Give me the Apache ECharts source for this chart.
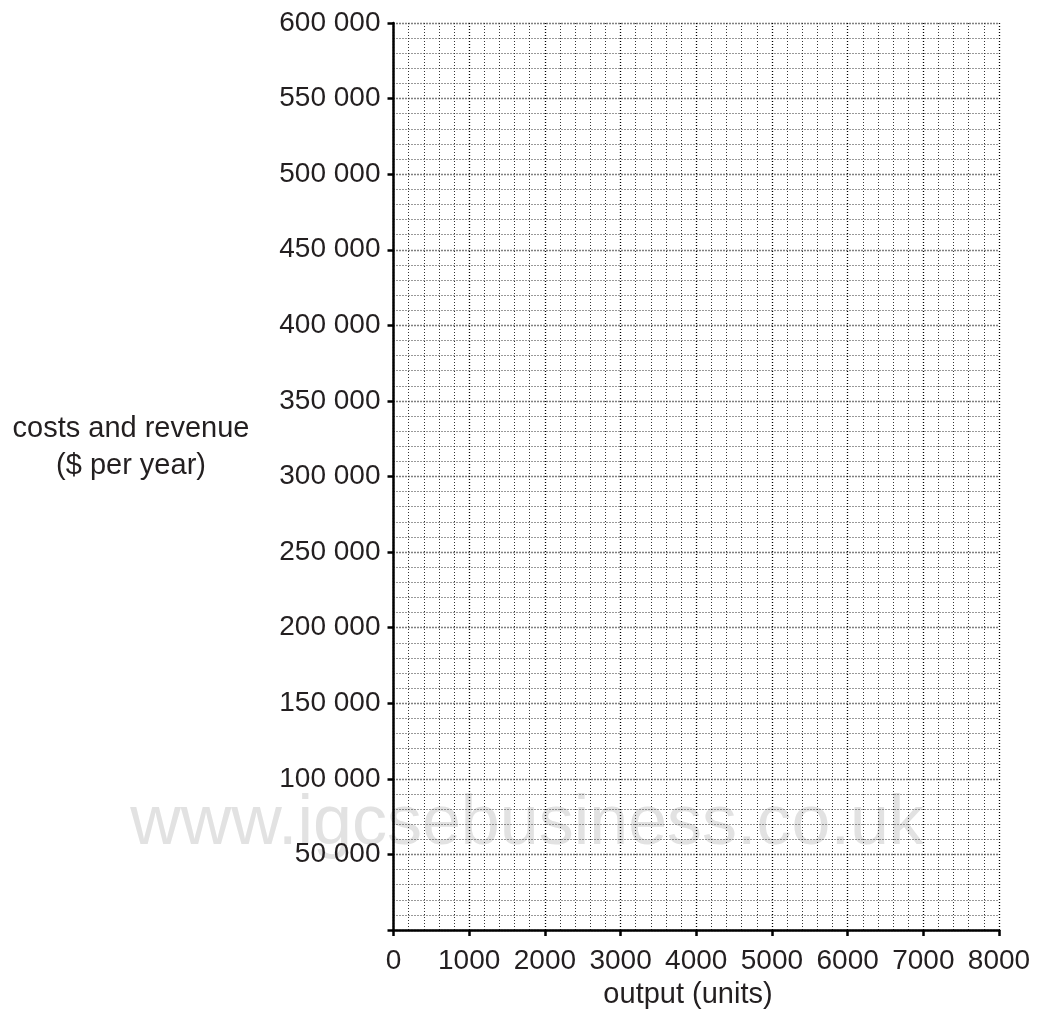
<!DOCTYPE html>
<html>
<head>
<meta charset="utf-8">
<script src="https://cdn.jsdelivr.net/npm/echarts@6/dist/echarts.min.js"></script>
<style>
html,body{margin:0;padding:0;background:#fff;}
#chart{width:1042px;height:1021px;}
</style>
</head>
<body>
<div id="chart"></div>
<script>
// Axis ranges and tick labels (blank graph paper: no plotted data)
const xTicks = [0, 1000, 2000, 3000, 4000, 5000, 6000, 7000, 8000];
const xTickLabels = ['0', '1000', '2000', '3000', '4000', '5000', '6000', '7000', '8000'];
const yTicks = [0, 50000, 100000, 150000, 200000, 250000, 300000, 350000, 400000, 450000, 500000, 550000, 600000];
const yTickLabels = ['', '50 000', '100 000', '150 000', '200 000', '250 000', '300 000', '350 000', '400 000', '450 000', '500 000', '550 000', '600 000'];
const seriesData = [];
const xAxisTitle = 'output (units)';
const yAxisTitle = ['costs and revenue', '($ per year)'];
const watermark = 'www.igcsebusiness.co.uk';

const textColor = '#231f20';
const font = '"Liberation Sans", Arial, Helvetica, sans-serif';

const chart = echarts.init(document.getElementById('chart'), null, {renderer: 'canvas'});
chart.setOption({
  animation: false,
  backgroundColor: '#ffffff',
  grid: {left: 393.5, right: 43, top: 23, bottom: 91, containLabel: false},
  xAxis: {
    type: 'value',
    min: xTicks[0],
    max: xTicks[xTicks.length - 1],
    interval: 1000,
    axisLine: {show: true, onZero: false, lineStyle: {color: '#000', width: 2.5}},
    axisTick: {show: true, inside: false, length: 6, lineStyle: {color: '#000', width: 2.5}},
    axisLabel: {
      margin: 17,
      fontSize: 28,
      fontFamily: font,
      color: textColor,
      formatter: v => { const i = xTicks.indexOf(v); return i >= 0 ? xTickLabels[i] : ''; }
    },
    splitLine: {show: true, lineStyle: {color: '#000', width: 1.3, type: [1, 2]}},
    minorTick: {show: false, splitNumber: 5},
    minorSplitLine: {show: true, lineStyle: {color: '#333', width: 1, type: [1, 2]}}
  },
  yAxis: {
    type: 'value',
    min: yTicks[0],
    max: yTicks[yTicks.length - 1],
    interval: 50000,
    axisLine: {show: true, onZero: false, lineStyle: {color: '#000', width: 2.5}},
    axisTick: {show: true, inside: false, length: 6, lineStyle: {color: '#000', width: 2.5}},
    axisLabel: {
      margin: 13,
      fontSize: 28,
      fontFamily: font,
      color: textColor,
      formatter: v => { const i = yTicks.indexOf(v); return i >= 0 ? yTickLabels[i] : ''; }
    },
    splitLine: {show: true, lineStyle: {color: '#000', width: 1.3, type: [1, 2]}},
    minorTick: {show: false, splitNumber: 5},
    minorSplitLine: {show: true, lineStyle: {color: '#333', width: 1, type: [1, 2]}}
  },
  graphic: [
    {
      type: 'text', z: -10, silent: true,
      style: {
        text: watermark, x: 527, y: 860,
        font: '70px ' + font,
        fill: '#e2e2e2', textAlign: 'center', textVerticalAlign: 'bottom'
      }
    },
    {
      type: 'text', silent: true,
      style: {
        text: yAxisTitle.join('\n'), x: 131, y: 447,
        font: '29px ' + font, lineHeight: 37,
        fill: textColor, textAlign: 'center', textVerticalAlign: 'middle'
      }
    },
    {
      type: 'text', silent: true,
      style: {
        text: xAxisTitle, x: 688, y: 995,
        font: '29px ' + font,
        fill: textColor, textAlign: 'center', textVerticalAlign: 'middle'
      }
    }
  ],
  series: [{type: 'line', data: seriesData, showSymbol: false}]
});
</script>
</body>
</html>
